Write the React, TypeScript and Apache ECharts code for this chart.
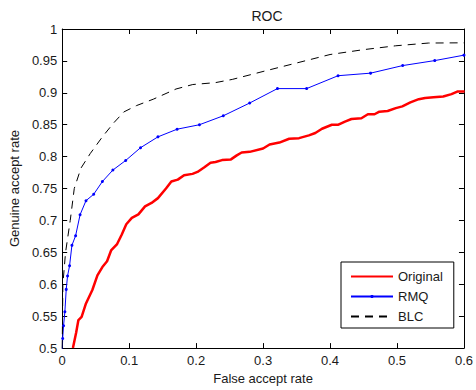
import React, { useEffect, useRef } from "react";
import * as echarts from "echarts";

const xTicks = [0, 0.1, 0.2, 0.3, 0.4, 0.5, 0.6];
const yTicks = [0.5, 0.55, 0.6, 0.65, 0.7, 0.75, 0.8, 0.85, 0.9, 0.95, 1];

const originalX = [0.016, 0.0208, 0.0242, 0.029, 0.0355, 0.045, 0.0526, 0.06, 0.067, 0.073, 0.082, 0.089, 0.0957, 0.104, 0.1138, 0.1237, 0.1334, 0.143, 0.155, 0.163, 0.1726, 0.182, 0.1946, 0.202, 0.2118, 0.2215, 0.229, 0.2387, 0.252, 0.2607, 0.268, 0.28, 0.3, 0.3097, 0.3243, 0.339, 0.3537, 0.3684, 0.378, 0.388, 0.4027, 0.4125, 0.4223, 0.432, 0.4468, 0.4565, 0.4664, 0.4737, 0.486, 0.4982, 0.508, 0.52, 0.5325, 0.542, 0.5545, 0.569, 0.5814, 0.59, 0.601];
const originalY = [0.5, 0.524, 0.544, 0.549, 0.57, 0.591, 0.614, 0.627, 0.636, 0.653, 0.663, 0.678, 0.694, 0.704, 0.7095, 0.722, 0.7275, 0.735, 0.75, 0.761, 0.764, 0.771, 0.773, 0.776, 0.783, 0.7905, 0.7915, 0.7946, 0.7957, 0.802, 0.8065, 0.8075, 0.8127, 0.819, 0.822, 0.828, 0.829, 0.8333, 0.837, 0.8437, 0.85, 0.85, 0.855, 0.859, 0.8602, 0.8664, 0.8664, 0.8705, 0.8715, 0.876, 0.8788, 0.885, 0.89, 0.892, 0.8932, 0.8943, 0.898, 0.902, 0.902];

const rmqX = [0, 0.0007, 0.002, 0.004, 0.006, 0.008, 0.011, 0.0145, 0.02, 0.0267, 0.0355, 0.047, 0.06, 0.0757, 0.0948, 0.117, 0.143, 0.1716, 0.205, 0.2406, 0.28, 0.3214, 0.365, 0.412, 0.4605, 0.5085, 0.5564, 0.6];
const rmqY = [0.49, 0.515, 0.535, 0.557, 0.592, 0.613, 0.629, 0.661, 0.676, 0.709, 0.731, 0.741, 0.761, 0.779, 0.794, 0.814, 0.831, 0.843, 0.85, 0.864, 0.884, 0.9066, 0.9066, 0.9268, 0.9308, 0.9427, 0.9505, 0.959];

const blcX = [0, 0.001, 0.005, 0.012, 0.018, 0.028, 0.042, 0.06, 0.077, 0.092, 0.111, 0.136, 0.17, 0.195, 0.229, 0.254, 0.302, 0.351, 0.4, 0.449, 0.498, 0.547, 0.591, 0.6];
const blcY = [0.5, 0.6, 0.65, 0.7, 0.75, 0.782, 0.805, 0.831, 0.853, 0.87, 0.88, 0.89, 0.906, 0.913, 0.916, 0.921, 0.934, 0.947, 0.96, 0.9675, 0.9737, 0.978, 0.9783, 0.9783];

const zip = (xs: number[], ys: number[]) => xs.map((x, i) => [x, ys[i]]);

const FONT = "Liberation Sans, Arial, Helvetica, sans-serif";
const TXT = "#1a1a1a";
const HIDDEN = { color: "rgba(0,0,0,0)", opacity: 0, borderWidth: 0 };

export default function App() {
  const ref = useRef<HTMLDivElement>(null);
  useEffect(() => {
    if (!ref.current) return;
    const chart = echarts.init(ref.current, undefined, { renderer: "svg" });
    const axisCommon = {
      type: "value" as const,
      axisLine: { show: true, onZero: false, lineStyle: { color: "#000", width: 1 } },
      axisTick: { show: true, inside: true, length: 5, lineStyle: { color: "#000" } },
      splitLine: { show: false },
    };
    chart.setOption({
      animation: false,
      backgroundColor: "#fff",
      title: {
        text: "ROC",
        left: 262,
        top: 4,
        textAlign: "center",
        textStyle: { fontFamily: FONT, fontSize: 14, fontWeight: "normal", color: TXT },
      },
      grid: { left: 57.5, right: 10, top: 29, bottom: 38, containLabel: false },
      xAxis: [
        {
          ...axisCommon,
          position: "bottom",
          min: xTicks[0],
          max: xTicks[xTicks.length - 1],
          interval: 0.1,
          name: "False accept rate",
          nameLocation: "middle",
          nameGap: 22,
          nameTextStyle: { fontFamily: FONT, fontSize: 13, color: TXT },
          axisLabel: { fontFamily: FONT, fontSize: 13, color: TXT, margin: 6 },
        },
        {
          ...axisCommon,
          position: "top",
          min: xTicks[0],
          max: xTicks[xTicks.length - 1],
          interval: 0.1,
          axisLabel: { show: false },
        },
      ],
      yAxis: [
        {
          ...axisCommon,
          position: "left",
          min: yTicks[0],
          max: yTicks[yTicks.length - 1],
          interval: 0.05,
          name: "Genuine accept rate",
          nameLocation: "middle",
          nameGap: 39,
          nameTextStyle: { fontFamily: FONT, fontSize: 13, color: TXT },
          axisLabel: { fontFamily: FONT, fontSize: 13, color: TXT, margin: 5 },
        },
        {
          ...axisCommon,
          position: "right",
          min: yTicks[0],
          max: yTicks[yTicks.length - 1],
          interval: 0.05,
          axisLabel: { show: false },
        },
      ],
      legend: {
        orient: "vertical",
        left: 341,
        top: 262,
        itemWidth: 42,
        itemHeight: 4,
        itemGap: 7,
        padding: [8, 11, 5, 9],
        backgroundColor: "#fff",
        borderColor: "#000",
        borderWidth: 1,
        borderRadius: 0,
        textStyle: { fontFamily: FONT, fontSize: 13, color: TXT, padding: [0, 0, 0, 0] },
        data: [
          { name: "Original", itemStyle: HIDDEN },
          { name: "RMQ" },
          { name: "BLC", itemStyle: HIDDEN },
        ],
      },
      series: [
        {
          name: "Original",
          type: "line",
          data: zip(originalX, originalY),
          symbol: "none",
          color: "#ff0000",
          lineStyle: { color: "#ff0000", width: 2.5 },
          clip: true,
        },
        {
          name: "RMQ",
          type: "line",
          data: zip(rmqX, rmqY),
          symbol: "circle",
          symbolSize: 3,
          showSymbol: true,
          color: "#0000ff",
          itemStyle: { color: "#0000ff" },
          lineStyle: { color: "#0000ff", width: 1 },
          clip: true,
        },
        {
          name: "BLC",
          type: "line",
          data: zip(blcX, blcY),
          symbol: "none",
          color: "#000",
          lineStyle: { color: "#000", width: 1, type: [8, 6] },
          clip: true,
        },
      ],
    });
    return () => chart.dispose();
  }, []);
  return (
    <div
      ref={ref}
      style={{ position: "absolute", left: 0, top: 0, width: 476, height: 390 }}
    />
  );
}
